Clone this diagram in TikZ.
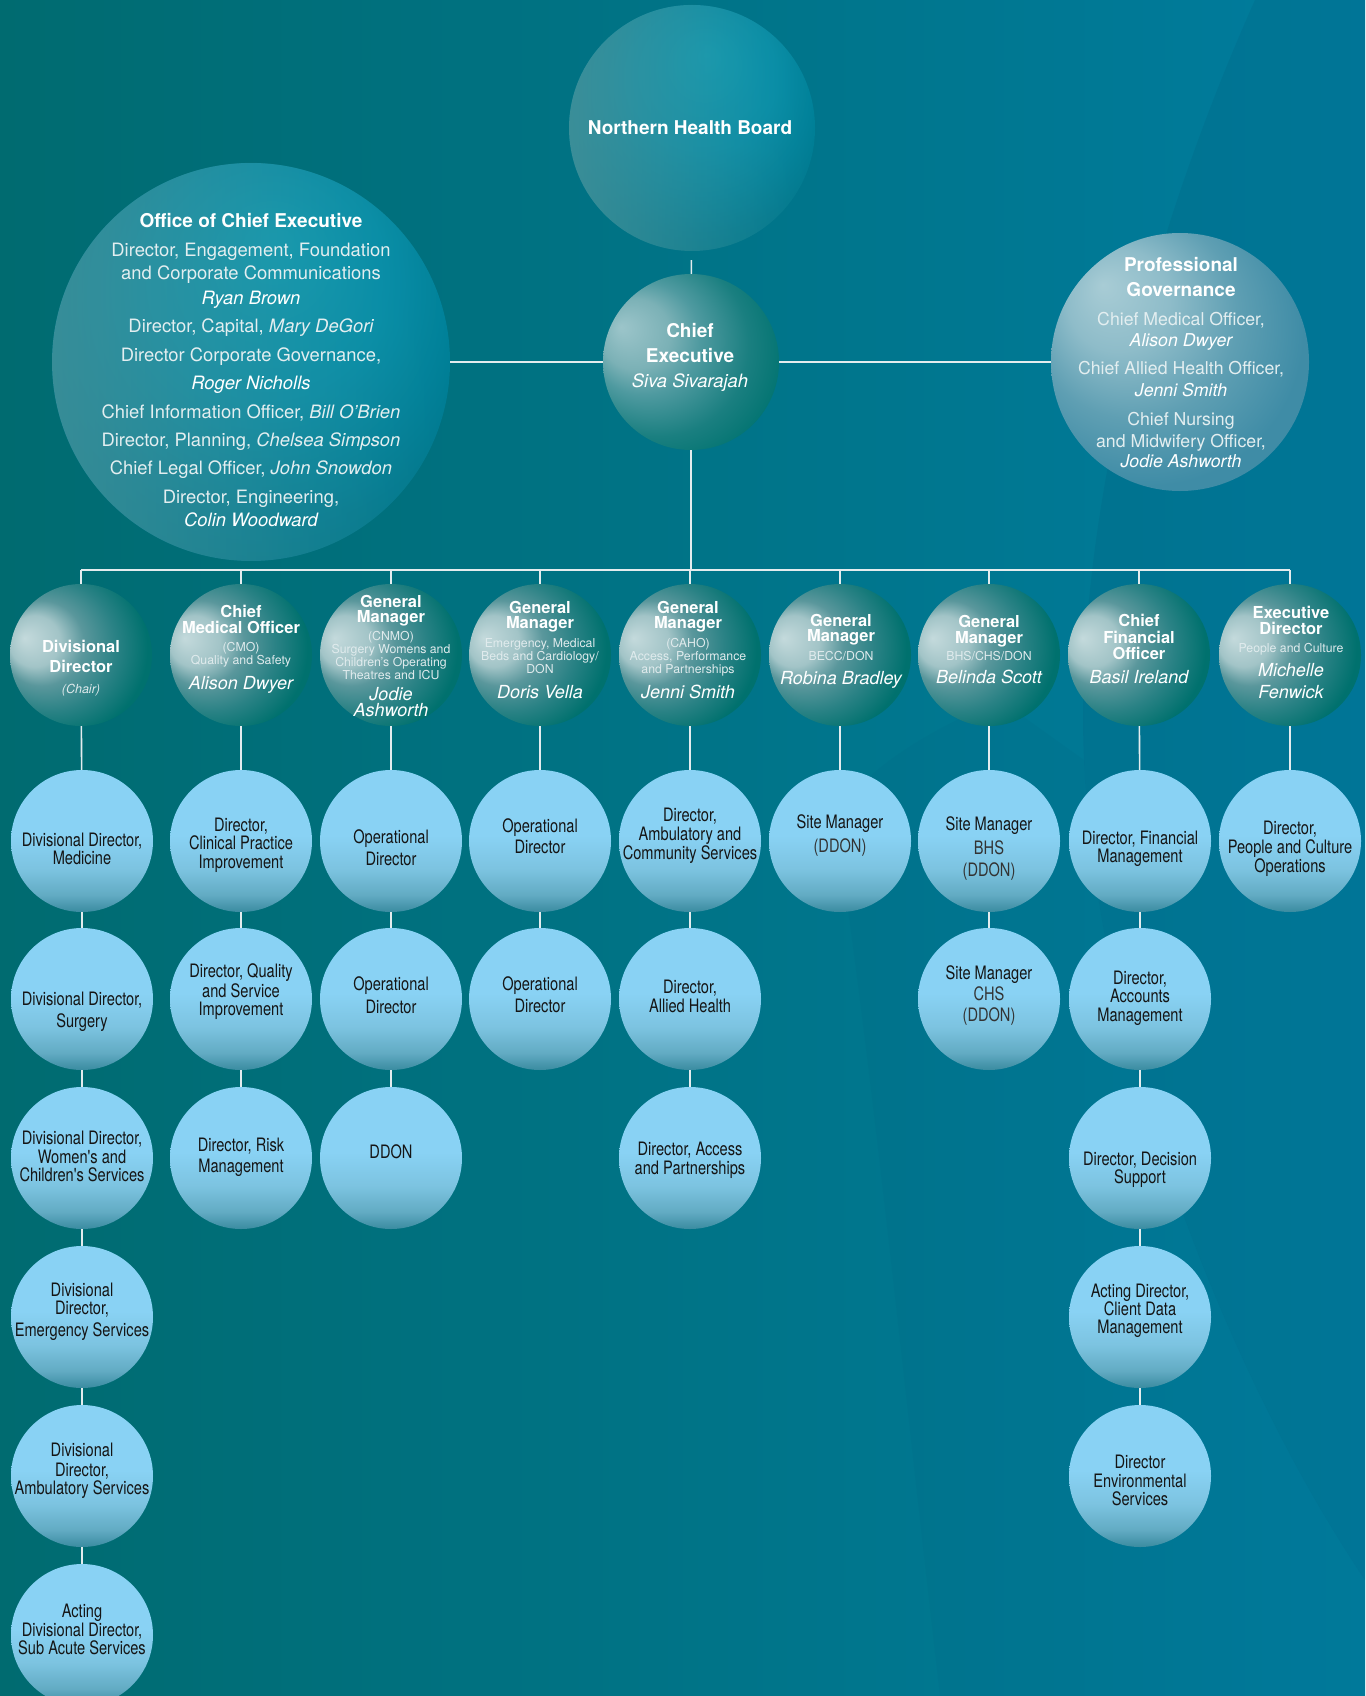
\documentclass[tikz,border=0pt]{standalone}
\usepackage{fontspec}
\setmainfont{TeX Gyre Heros}
\newfontfamily\narrowfont{TeX Gyre Heros}[FakeStretch=0.79]
\usetikzlibrary{fadings}

\definecolor{bgL}{HTML}{006B70}
\definecolor{bgR}{HTML}{007C9E}
\definecolor{lineC}{HTML}{E4ECEE}
\definecolor{bodyC}{HTML}{E3EEF0}
\definecolor{smallC}{HTML}{E0EBED}
\definecolor{lowC}{HTML}{151515}
\definecolor{lowC2}{HTML}{333333}
\definecolor{deepC}{HTML}{00607F}
% level-2 header shading
\definecolor{hA}{HTML}{C4DADC}\definecolor{hB}{HTML}{A2C4C7}\definecolor{hC}{HTML}{5A979C}
\definecolor{hD}{HTML}{2A8285}\definecolor{hE}{HTML}{00716E}
% chief executive
\definecolor{cA}{HTML}{9CC5CA}\definecolor{cB}{HTML}{7BB1B6}\definecolor{cC}{HTML}{4F9AA0}
\definecolor{cD}{HTML}{1A7F80}\definecolor{cE}{HTML}{007370}
% professional governance
\definecolor{pA}{HTML}{A8CCD5}\definecolor{pB}{HTML}{8EBCC9}\definecolor{pC}{HTML}{5F9FB3}
\definecolor{pD}{HTML}{3F8CA6}
% board / office
\definecolor{nA}{HTML}{049AB4}\definecolor{nB}{HTML}{018DA8}\definecolor{nC}{HTML}{007A90}
\definecolor{nD}{HTML}{007280}
\definecolor{grayveil}{HTML}{4F959B}
% bubbles
\definecolor{bT}{HTML}{89D2F4}\definecolor{bM}{HTML}{7CC3E0}\definecolor{bM2}{HTML}{62ABC3}
\definecolor{bB}{HTML}{3A8BA0}

\pgfdeclareradialshading{hdrball}{\pgfqpoint{-20bp}{6bp}}{color(0bp)=(hA); color(9bp)=(hB); color(15bp)=(hC); color(23bp)=(hD); color(31bp)=(hE); color(50bp)=(hE)}
\pgfdeclareradialshading{ceball}{\pgfqpoint{-20bp}{10bp}}{color(0bp)=(cA); color(10bp)=(cB); color(16bp)=(cC); color(26bp)=(cD); color(34bp)=(cE); color(50bp)=(cE)}
\pgfdeclareradialshading{pgball}{\pgfqpoint{-15bp}{15bp}}{color(0bp)=(pA); color(10bp)=(pB); color(20bp)=(pC); color(30bp)=(pD); color(50bp)=(pD)}
\pgfdeclareradialshading{nhball}{\pgfqpoint{3bp}{15bp}}{color(0bp)=(nA); color(15bp)=(nB); color(28bp)=(nC); color(40bp)=(nD); color(50bp)=(nD)}
\pgfdeclareverticalshading{bubble}{100bp}{color(0bp)=(bB); color(25bp)=(bB); color(31bp)=(bM2); color(40bp)=(bM); color(52bp)=(bT); color(100bp)=(bT)}
\tikzfading[name=veilfade, left color=transparent!0, right color=transparent!100]

\newcommand\tightlines{\baselineskip=0pt\relax\lineskiplimit=-1000pt\relax\lineskip=0pt\relax}
\newcommand\TB{\fontsize{19}{19}\bfseries\selectfont}
\newcommand\TR{\fontsize{18.4}{18.4}\selectfont\color{bodyC}}
\newcommand\TI{\fontsize{18.4}{18.4}\itshape\selectfont}
\newcommand\PR{\fontsize{17.7}{17.7}\selectfont\color{bodyC}}
\newcommand\PI{\fontsize{17.7}{17.7}\itshape\selectfont}
\newcommand\HB{\fontsize{16.5}{16.5}\bfseries\selectfont}
\newcommand\HS{\fontsize{12.3}{12.3}\selectfont\color{smallC}}
\newcommand\HSI{\fontsize{12.5}{12.5}\itshape\selectfont\color{smallC}}
\newcommand\HN{\fontsize{18}{18}\itshape\selectfont}

\tikzset{
  tx/.style={inner sep=0pt, align=center, text=white, font=\tightlines},
  lowtx/.style={inner sep=0pt, align=center, text=lowC,
    font=\narrowfont\fontsize{18.5}{18.5}\selectfont\tightlines},
  bub/.style={circle, inner sep=0pt, minimum size=142pt, shading=bubble},
  hdr/.style={circle, inner sep=0pt, minimum size=142pt, shading=hdrball},
  link/.style={draw=lineC, line width=1.6pt},
}
\newcommand\bub[5]{\node[bub] (#1) at (#2,#3) {};
  \node[lowtx] (#1t) at (#2,#4) {#5};}

\begin{document}
\begin{tikzpicture}[x=1pt,y=-1pt]
\useasboundingbox (0,0) rectangle (1365,1696);
\shade[left color=bgL, right color=bgR] (0,0) rectangle (1365,1696);
% background: large faint arcs
\fill[deepC, opacity=0.22] (1255,0) .. controls (1130,280) and (1075,560) .. (1084,760)
  .. controls (1095,1040) and (1230,1380) .. (1365,1580) -- (1365,0) -- cycle;
\fill[deepC, opacity=0.10] (835,820) .. controls (870,1050) and (900,1350) .. (940,1696) -- (1365,1696) -- (1365,1580) .. controls (1230,1380) and (1095,1040) .. (1084,760) -- (1000,700) .. controls (930,730) and (860,770) .. (835,820) -- cycle;

% ---- top level ----
\node[circle, inner sep=0pt, minimum size=246pt, shading=nhball] (nhb) at (692,128) {};
\fill[grayveil, path fading=veilfade, fill opacity=0.75] (nhb.center) circle (123);
\node[tx] (nhbt) at (690,128) {\TB Northern Health Board};

\node[circle, inner sep=0pt, minimum size=176pt, shading=ceball] (ce) at (691,362) {};
\node[tx] (cet) at (690,357) {\TB Chief\\[25pt]\TB Executive\\[25pt]\TI Siva Sivarajah};

\node[circle, inner sep=0pt, minimum size=398pt, shading=nhball] (office) at (251,362) {};
\fill[grayveil, path fading=veilfade, fill opacity=0.7] (office.center) circle (199);
\node[tx] (officet) at (251,370.5) {\TB Office of Chief Executive\\[29pt]
\TR Director, Engagement, Foundation\\[23pt]
\TR and Corporate Communications\\[25pt]
\TI Ryan Brown\\[28pt]
\TR Director, Capital, {\itshape Mary DeGori}\\[29pt]
\TR Director Corporate Governance,\\[28pt]
\TI Roger Nicholls\\[29pt]
\TR Chief Information Officer, {\itshape Bill O'Brien}\\[28pt]
\TR Director, Planning, {\itshape Chelsea Simpson}\\[28pt]
\TR Chief Legal Officer, {\itshape John Snowdon}\\[29pt]
\TR Director, Engineering,\\[23pt]
\TI Colin Woodward};

\node[circle, inner sep=0pt, minimum size=258pt, shading=pgball] (pg) at (1180,362) {};
\node[tx] (pgt) at (1181,363) {\TB Professional\\[25pt]\TB Governance\\[29pt]
\PR Chief Medical Officer,\\[21pt]
\PI Alison Dwyer\\[28pt]
\PR Chief Allied Health Officer,\\[22pt]
\PI Jenni Smith\\[29pt]
\PR Chief Nursing\\[22pt]
\PR and Midwifery Officer,\\[20pt]
\PI Jodie Ashworth};

\draw[link, shorten <=9pt] (nhb) -- (ce);
\draw[link] (office) -- (ce);
\draw[link] (ce) -- (pg);

% ---- bar ----
\coordinate (barL) at (81,570);
\coordinate (barR) at (1290,570);
\draw[link] (barL) -- (barR);
\draw[link] (ce) -- (ce |- barL);

% ---- level 2 ----
\node[hdr] (d1) at (81,655) {};
\node[tx] (d1t) at (81,668) {\HB Divisional\\[20pt]\HB Director\\[21pt]\HSI (Chair)};
\node[hdr] (d2) at (241,655) {};
\node[tx] (d2t) at (241,649) {\HB Chief\\[16pt]\HB Medical Officer\\[18pt]\HS (CMO)\\[13pt]\HS Quality and Safety\\[25pt]\HN Alison Dwyer};
\node[hdr] (d3) at (391,655) {};
\node[tx] (d3t) at (391,656) {\HB General\\[15pt]\HB Manager\\[18pt]\HS (CNMO)\\[13pt]\HS Surgery Womens and\\[13pt]\HS Children's Operating\\[13pt]\HS Theatres and ICU\\[21pt]\HN Jodie\\[16pt]\HN Ashworth};
\node[hdr] (d4) at (540,655) {};
\node[tx] (d4t) at (540,650.5) {\HB General\\[15pt]\HB Manager\\[19pt]\HS Emergency, Medical\\[13pt]\HS Beds and Cardiology/\\[13pt]\HS DON\\[25pt]\HN Doris Vella};
\node[hdr] (d5) at (690,655) {};
\node[tx] (d5t) at (688,650.5) {\HB General\\[15pt]\HB Manager\\[19pt]\HS (CAHO)\\[13pt]\HS Access, Performance\\[13pt]\HS and Partnerships\\[25pt]\HN Jenni Smith};
\node[hdr] (d6) at (840,655) {};
\node[tx] (d6t) at (841,651) {\HB General\\[15pt]\HB Manager\\[19pt]\HS BECC/DON\\[24pt]\HN Robina Bradley};
\node[hdr] (d7) at (989,655) {};
\node[tx] (d7t) at (989,650) {\HB General\\[16pt]\HB Manager\\[17pt]\HS BHS/CHS/DON\\[23pt]\HN Belinda Scott};
\node[hdr] (d8) at (1139,655) {};
\node[tx] (d8t) at (1139,648.5) {\HB Chief\\[17pt]\HB Financial\\[16pt]\HB Officer\\[24pt]\HN Basil Ireland};
\node[hdr] (d9) at (1290,655) {};
\node[tx] (d9t) at (1291,652) {\HB Executive\\[16pt]\HB Director\\[18pt]\HS People and Culture\\[24pt]\HN Michelle\\[22pt]\HN Fenwick};

\foreach \i in {1,...,9} { \draw[link] (d\i) -- (d\i |- barL); }

% ---- lower levels ----
% column 1
\bub{a3}{82}{841}{849}{Divisional Director,\\[18pt]Medicine}
\bub{a4}{82}{999}{1012}{Divisional Director,\\[22pt]Surgery}
\bub{a5}{82}{1158}{1156.5}{Divisional Director,\\[19pt]Women's and\\[18pt]Children's Services}
\bub{a6}{82}{1317}{1312}{Divisional\\[18pt]Director,\\[22pt]Emergency Services}
\bub{a7}{82}{1476}{1471}{Divisional\\[20pt]Director,\\[18pt]Ambulatory Services}
\bub{a8}{82}{1635}{1629.5}{Acting\\[19pt]Divisional Director,\\[18pt]Sub Acute Services}
% column 2
\bub{b3}{241}{841}{845.5}{Director,\\[18pt]Clinical Practice\\[19pt]Improvement}
\bub{b4}{241}{999}{992}{Director, Quality\\[20pt]and Service\\[18pt]Improvement}
\bub{b5}{241}{1158}{1157.5}{Director, Risk\\[21pt]Management}
% column 3
\bub{c3}{391}{841}{848}{Operational\\[22pt]Director}
\bub{c4}{391}{999}{995.5}{Operational\\[23pt]Director}
\bub{c5}{391}{1158}{1152}{DDON}
% column 4
\bub{e3}{540}{841}{836.5}{Operational\\[21pt]Director}
\bub{e4}{540}{999}{995}{Operational\\[22pt]Director}
% column 5
\bub{f3}{690}{841}{836}{Director,\\[19pt]Ambulatory and\\[19pt]Community Services}
\bub{f4}{690}{999}{996.5}{Director,\\[19pt]Allied Health}
\bub{f5}{690}{1158}{1160.5}{Director, Access\\[19pt]and Partnerships}
% column 6
\bub{g3}{840}{841}{836}{Site Manager\\[24pt]\color{lowC2}(DDON)}
% column 7
\bub{h3}{989}{841}{849}{Site Manager\\[24pt]\color{lowC2}BHS\\[22pt]\color{lowC2}(DDON)}
\bub{h4}{989}{999}{996}{Site Manager\\[21pt]\color{lowC2}CHS\\[21pt]\color{lowC2}(DDON)}
% column 8
\bub{k3}{1140}{841}{849}{Director, Financial\\[18pt]Management}
\bub{k4}{1140}{999}{998.5}{Director,\\[18pt]Accounts\\[19pt]Management}
\bub{k5}{1140}{1158}{1170}{Director, Decision\\[18pt]Support}
\bub{k6}{1140}{1317}{1311}{Acting Director,\\[18pt]Client Data\\[18pt]Management}
\bub{k7}{1140}{1476}{1480.5}{Director\\[19pt]Environmental\\[18pt]Services}
% column 9
\bub{m3}{1290}{841}{849}{Director,\\[19pt]People and Culture\\[19pt]Operations}

% connectors
\draw[link] (d1) -- (a3); \draw[link] (a3) -- (a4); \draw[link] (a4) -- (a5);
\draw[link] (a5) -- (a6); \draw[link] (a6) -- (a7); \draw[link] (a7) -- (a8);
\draw[link] (d2) -- (b3); \draw[link] (b3) -- (b4); \draw[link] (b4) -- (b5);
\draw[link] (d3) -- (c3); \draw[link] (c3) -- (c4); \draw[link] (c4) -- (c5);
\draw[link] (d4) -- (e3); \draw[link] (e3) -- (e4);
\draw[link] (d5) -- (f3); \draw[link] (f3) -- (f4); \draw[link] (f4) -- (f5);
\draw[link] (d6) -- (g3);
\draw[link] (d7) -- (h3); \draw[link] (h3) -- (h4);
\draw[link] (d8) -- (k3); \draw[link] (k3) -- (k4); \draw[link] (k4) -- (k5);
\draw[link] (k5) -- (k6); \draw[link] (k6) -- (k7);
\draw[link] (d9) -- (m3);
\end{tikzpicture}
\end{document}
